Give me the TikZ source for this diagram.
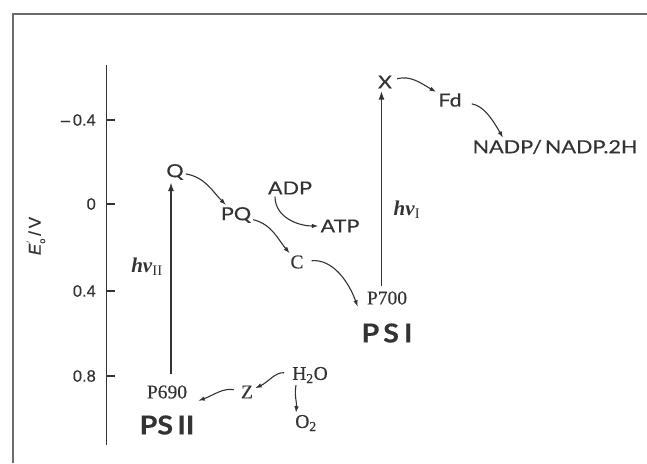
\documentclass[tikz,border=0pt]{standalone}
\usepackage{fontspec}
\setmainfont{Liberation Serif}
\newfontfamily\serfont{Liberation Serif}[FakeBold=0.35]
\newfontfamily\labfont{Lato}[FakeStretch=1.2,FakeBold=0.35]
\newfontfamily\psfont{Lato}[FakeStretch=1.1,FakeBold=0.4]
\newfontfamily\tickfont{Liberation Sans}[FakeBold=0.4]
\usetikzlibrary{arrows.meta}
\definecolor{ink}{gray}{0.2}
\begin{document}
\begin{tikzpicture}[x=1pt,y=1pt,
  sl/.style={font=\labfont\fontsize{18}{18}\selectfont, text=ink, inner sep=2pt},
  sr/.style={font=\serfont\fontsize{19.5}{19.5}\selectfont, text=ink, inner sep=2pt},
  ps/.style={font=\psfont\bfseries\fontsize{26}{26}\selectfont, text=ink, inner sep=2pt},
  tk/.style={font=\tickfont\fontsize{16.5}{16.5}\selectfont, text=ink, anchor=east, inner sep=0pt},
  hv/.style={font=\fontsize{21}{21}\selectfont, text=ink, inner sep=1pt},
  flow/.style={draw=ink, line width=1.1pt, -{Latex[length=6.5pt,width=4.5pt]}},
  excite/.style={draw=ink, line width=1.7pt, -{Latex[length=9pt,width=6pt]}},
  axisline/.style={draw=ink, line width=1.2pt},
]
\useasboundingbox (0,0) rectangle (647,-463);
% frame
\draw[gray!85!black, line width=1.5pt] (13,-463) -- (13,-14) -- (647,-14);
% axis
\draw[axisline] (106.5,-65) -- (106.5,-445);
\foreach \yy in {120,204,291,376} \draw[axisline] (106.5,-\yy) -- (115,-\yy);
\node[tk] (t1) at (96,-120) {–\,0.4};
\node[tk] (t2) at (96,-204) {0};
\node[tk] (t3) at (96,-291) {0.4};
\node[tk] (t4) at (96,-376) {0.8};
\node[rotate=90, font=\tickfont\fontsize{17}{17}\selectfont, text=ink] (ax) at (36,-236)
  {\textit{E}\makebox[0pt][l]{\raisebox{0.75ex}{\small$'$}}\raisebox{-0.5ex}{\small o}\,/\,V};
% nodes
\node[sl] (Q) at (175,-172) {Q};
\node[sl] (PQ) at (236,-215) {PQ};
\node[sl] (ADP) at (290,-188) {ADP};
\node[sl] (ATP) at (340,-226) {ATP};
\node[sr] (C) at (297,-262) {C};
\node[sr] (P700) at (387,-298) {P700};
\node[ps] (PSI) at (387,-333) {P\hspace{4pt}S\hspace{5pt}I};
\node[sl] (X) at (385,-82) {X};
\node[sl] (Fd) at (450,-100) {Fd};
\node[sl] (NADP) at (555,-147) {NADP/\,NADP.2H};
\node[sr] (P690) at (167,-392) {P690};
\node[ps] (PSII) at (167,-425) {PS\,II};
\node[sr] (Z) at (247,-392) {Z};
\node[sr] (H2O) at (310,-375) {H\textsubscript{2}O};
\node[sr] (O2) at (306,-423) {O\textsubscript{2}};
\node[hv] (hv2) at (147,-267) {\textbf{\textit{hν}}\textsubscript{\normalfont II}};
\node[hv] (hv1) at (407,-210) {\textbf{\textit{hν}}\textsubscript{\normalfont I}};
% excitation arrows
\draw[excite, shorten <=9pt] ([xshift=4pt]P690.north) -- ([xshift=-4pt]Q.south);
\draw[excite, shorten <=3pt] ([xshift=-5.5pt]P700.north) -- ([xshift=-3.5pt]X.south);
% electron flow
\draw[flow] (Q) to[out=-10,in=135] (PQ);
\draw[flow] (PQ) to[out=-15,in=130] (C);
\draw[flow] ([xshift=-15pt]ADP.south) to[out=-90,in=180] (ATP.west);
\draw[flow, shorten <=6pt] (C) to[out=5,in=110] ([xshift=-7pt]P700.south west);
\draw[flow, shorten <=3pt] (X) to[out=15,in=150] (Fd);
\draw[flow, shorten <=8pt] (Fd) to[out=-10,in=120] ([xshift=-52pt]NADP.north);
\draw[flow, shorten <=6pt] (H2O) to[out=175,in=25] (Z);
\draw[flow, shorten <=5pt] (Z) to[out=170,in=20] ([xshift=9pt]P690.south east);
\draw[flow] ([xshift=-14pt]H2O.south) to[out=-100,in=85] ([xshift=-10pt]O2.north);
\end{tikzpicture}
\end{document}
